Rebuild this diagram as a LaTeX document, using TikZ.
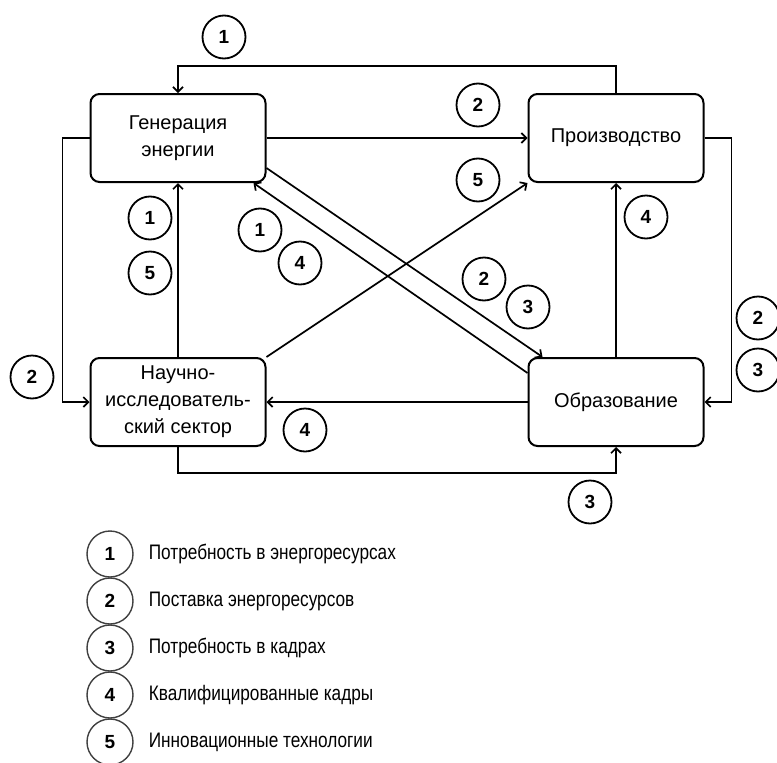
\documentclass[tikz,border=0pt]{standalone}
\usepackage{fontspec}
\setmainfont{Liberation Sans}
\newfontfamily\narrowfont[FakeStretch=0.82]{Liberation Sans}
\usetikzlibrary{arrows.meta}

\begin{document}
\begin{tikzpicture}[x=1pt,y=-1pt,line width=1.7pt,
  >={Straight Barb[length=5pt,width=10pt]},
  blok/.style={draw,line width=2pt,rounded corners=9pt,minimum width=175pt,
    minimum height=88pt,align=center,inner sep=0pt,
    font=\fontsize{20}{27}\selectfont},
  num/.style={draw,circle,line width=1.8pt,minimum size=43pt,inner sep=0pt,
    font=\fontsize{19}{19}\selectfont\bfseries},
  lnum/.style={num,minimum size=46pt,line width=1.4pt,draw=black!75},
  ltext/.style={anchor=west,inner sep=0pt,font=\narrowfont\fontsize{21}{21}\selectfont}]
\useasboundingbox (0,0) rectangle (777,763);
% blocks
\node[blok] (gen) at (178,138) {Генерация\\энергии};
\node[blok] (prod) at (616,138) {Производство};
\node[blok] (nis) at (178,402) {Научно-\\исследователь-\\ский сектор};
\node[blok] (obr) at (616,402) {Образование};
\coordinate (top) at (0,66);
% connectors
\draw[->] (prod.north) -- (prod.north |- top) -| (gen.north);
\draw[->] (gen.east) -- (prod.west);
\draw[->] (gen.west) -- ++(-27,0) |- (nis.west);
\draw[->] (prod.east) -- ++(27,0) |- (obr.east);
\draw[->] (nis.north) -- (gen.south);
\draw[->] (obr.north) -- (prod.south);
\draw[->] (obr.west) -- (nis.east);
\draw[->] (nis.south) -- ++(0,26) -| (obr.south);
\draw[->] (nis.north east) -- (prod.south west);
\draw[->] ([yshift=15pt]gen.south east) -- ([xshift=15pt]obr.north west);
\draw[->] ([yshift=-16pt]obr.north west) -- ([xshift=-13pt]gen.south east);
% numbers
\node[num] (n1top) at (224,37) {1};
\node[num] (n2top) at (478,105) {2};
\node[num] (n5prod) at (478,180) {5};
\node[num] (n4prod) at (646,217) {4};
\node[num] (n1gen) at (150,218) {1};
\node[num] (n5gen) at (150,273) {5};
\node[num] (n1diag) at (260,230) {1};
\node[num] (n4diag) at (300,263) {4};
\node[num] (n2left) at (32,377) {2};
\node[num] (n4nis) at (305,430) {4};
\node[num] (n2diag) at (484,279) {2};
\node[num] (n3diag) at (528,307) {3};
\node[num] (n2right) at (758,318) {2};
\node[num] (n3right) at (758,370) {3};
\node[num] (n3bot) at (590,502) {3};
% legend
\node[lnum] (l1) at (110,554) {1};
\node[ltext] (t1) at (148,554) {Потребность в энергоресурсах};
\node[lnum] (l2) at (110,601) {2};
\node[ltext] (t2) at (148,601) {Поставка энергоресурсов};
\node[lnum] (l3) at (110,648) {3};
\node[ltext] (t3) at (148,648) {Потребность в кадрах};
\node[lnum] (l4) at (110,695) {4};
\node[ltext] (t4) at (148,695) {Квалифицированные кадры};
\node[lnum] (l5) at (110,742) {5};
\node[ltext] (t5) at (148,742) {Инновационные технологии};
\end{tikzpicture}
\end{document}
